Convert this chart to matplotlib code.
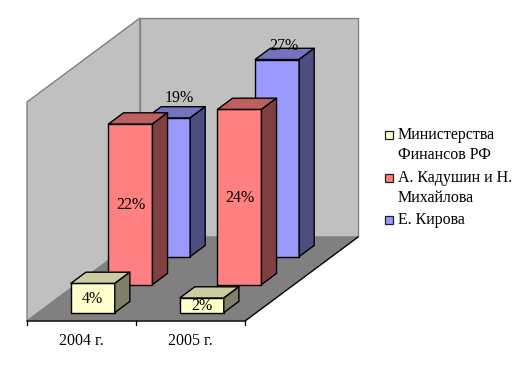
"""
3D-style clustered columns drawn by hand: matplotlib's mplot3d can't give
the oblique Excel projection, so everything goes through project().
"""

import matplotlib
matplotlib.use('Agg')
import matplotlib.pyplot as plt
from matplotlib.patches import Polygon, Rectangle

# -- Data ------------------------------------------------------
CATEGORIES = ["2004 г.", "2005 г."]
SERIES = ["Министерства\nФинансов РФ", "А. Кадушин и Н.\nМихайлова", "Е. Кирова"]
MINFIN = [4, 2]
KADUSHIN = [22, 24]
KIROVA = [19, 27]
Y_MAX = 30

# -- Pixel layout of the chart box ------------------------------
ORIGIN = (27, 321)       # front-left corner of the floor
CAT_W = 109              # px per category
DEPTH_DX = 113           # floor shift, front to back
DEPTH_DY = -84
VALUE_PX = 7.3           # px per percentage point
BAR_W = 44
BAR_DEPTH = 0.4          # share of one series slot

FONT = 'Liberation Serif'
FONT_SIZE = 11.5

# (face, top, side)
COLORS = [
    ('#FFFFCC', '#CCCCA3', '#80806A'),
    ('#FF8080', '#BF6060', '#804040'),
    ('#9999FF', '#7373BF', '#4D4D80'),
]
# labels of the back series sit above the column, not on it
LABEL_SHIFT = [
    [(0, 0), (0, 0)],
    [(0, 0), (0, 0)],
    [(11, -21), (7, -14)],
]


def project(x, d, v):
    """x in categories, d in 0..1 front to back, v in percent -> pixels"""
    px = ORIGIN[0] + x * CAT_W + d * DEPTH_DX
    py = ORIGIN[1] + d * DEPTH_DY - v * VALUE_PX
    return px, py


def draw_box(ax):
    n = len(CATEGORIES)
    wall = dict(fc='#C0C0C0', ec='#808080', lw=1, zorder=1)
    ax.add_patch(Polygon([project(0, 0, 0), project(0, 1, 0),
                          project(0, 1, Y_MAX), project(0, 0, Y_MAX)], **wall))
    ax.add_patch(Polygon([project(0, 1, 0), project(n, 1, 0),
                          project(n, 1, Y_MAX), project(0, 1, Y_MAX)], **wall))
    ax.add_patch(Polygon([project(0, 0, 0), project(n, 0, 0),
                          project(n, 1, 0), project(0, 1, 0)],
                         fc='#808080', ec='#808080', lw=1, zorder=2))

    # axis lines and ticks
    x0, y0 = project(0, 0, 0)
    x1, y1 = project(n, 0, 0)
    x2, y2 = project(n, 1, 0)
    ax.plot([x0, x1, x2], [y0, y1, y2], color='black', lw=0.9, zorder=3)
    for i in range(n + 1):
        tx, ty = project(i, 0, 0)
        ax.plot([tx, tx], [ty, ty + 4], color='black', lw=0.9, zorder=3)
    for i, cat in enumerate(CATEGORIES):
        tx, ty = project(i + 0.5, 0, 0)
        ax.text(tx, ty + 20, cat, ha='center', va='center',
                family=FONT, fontsize=FONT_SIZE, color='black')


def draw_column(ax, cat, s, value, colors, shift, zorder):
    slot = 1 / len(SERIES)
    bar_w = BAR_W / CAT_W
    x0 = cat + (1 - bar_w) / 2
    x1 = x0 + bar_w
    d0 = s * slot + slot * (1 - BAR_DEPTH) / 2
    d1 = d0 + slot * BAR_DEPTH
    face, top, side = colors
    style = dict(ec='black', lw=1, joinstyle='round', zorder=zorder)

    ax.add_patch(Polygon([project(x0, d0, 0), project(x1, d0, 0),
                          project(x1, d0, value), project(x0, d0, value)],
                         fc=face, **style))
    ax.add_patch(Polygon([project(x0, d0, value), project(x1, d0, value),
                          project(x1, d1, value), project(x0, d1, value)],
                         fc=top, **style))
    ax.add_patch(Polygon([project(x1, d0, 0), project(x1, d1, 0),
                          project(x1, d1, value), project(x1, d0, value)],
                         fc=side, **style))

    lx, ly = project((x0 + x1) / 2, d0, value / 2)
    if shift != (0, 0):
        lx, ly = project((x0 + x1) / 2, d0, value)
    ax.text(lx + shift[0], ly + shift[1] + 1, f"{value}%", ha='center', va='center',
            family=FONT, fontsize=FONT_SIZE, color='black', zorder=20)


def draw_legend(ax):
    y_pos = [135, 178, 220]
    for name, colors, y in zip(SERIES, COLORS, y_pos):
        ax.add_patch(Rectangle((385, y - 4), 8, 8, fc=colors[0], ec='#202020',
                               lw=0.9, zorder=5))
        ax.text(398, y - 8, name, ha='left', va='top', family=FONT,
                fontsize=FONT_SIZE, color='black', linespacing=1.3)


def main():
    fig = plt.figure(figsize=(5.25, 3.72), dpi=100)
    ax = fig.add_axes([0, 0, 1, 1])
    ax.set_xlim(0, 525)
    ax.set_ylim(372, 0)
    ax.axis('off')

    draw_box(ax)

    # back series first so the front ones cover it
    all_values = [MINFIN, KADUSHIN, KIROVA]
    for s in reversed(range(len(SERIES))):
        for c in range(len(CATEGORIES)):
            draw_column(ax, c, s, all_values[s][c], COLORS[s],
                        LABEL_SHIFT[s][c], zorder=10 - s)

    draw_legend(ax)
    fig.savefig('out.png', dpi=100)


if __name__ == "__main__":
    main()
